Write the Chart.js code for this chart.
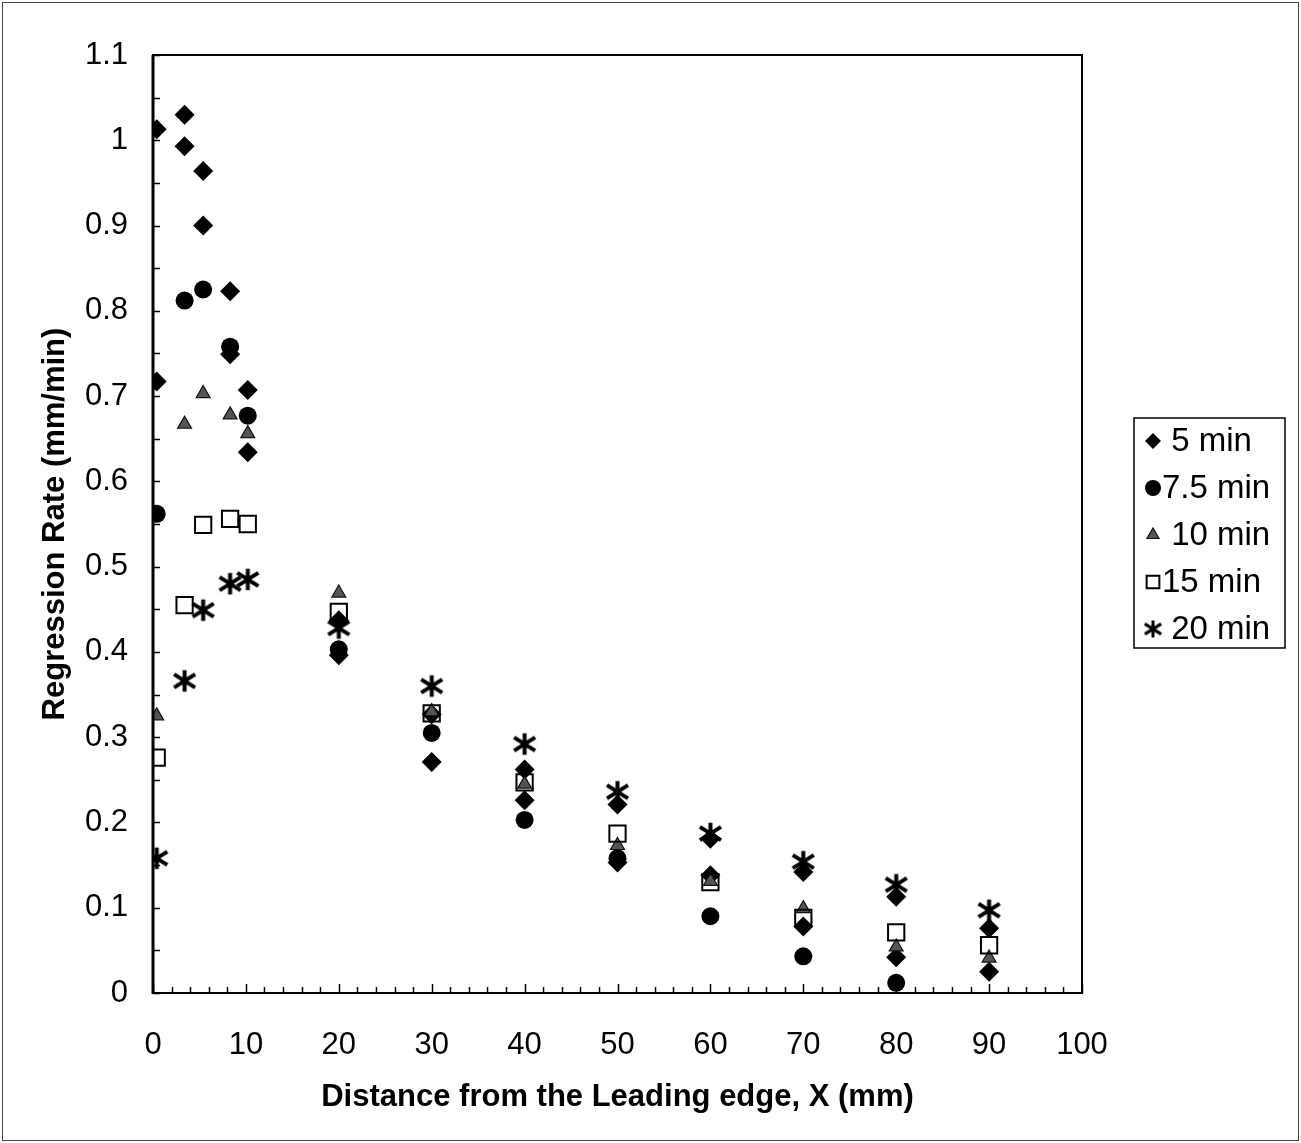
<!DOCTYPE html>
<html>
<head>
<meta charset="utf-8">
<script src="https://cdn.jsdelivr.net/npm/chart.js@4.4.1/dist/chart.umd.min.js"></script>
<style>
  html, body { margin: 0; padding: 0; background: #fff; }
  #wrap { width: 1301px; height: 1143px; position: relative; }
</style>
</head>
<body>
<div id="wrap"><canvas id="c"></canvas></div>
<script>
// Measurement stations along the slab (mm from the leading edge)
const distance = [0.4, 3.4, 5.4, 8.3, 10.2, 20, 30, 40, 50, 60, 70, 80, 90];

// Regression rate (mm/min) after each burn time
const rate5Upper = [1.013, 1.030, 0.964, 0.823, 0.707, 0.437, 0.327, 0.262, 0.221, 0.181, 0.142, 0.113, 0.076];
const rate5Lower = [0.717, 0.993, 0.900, 0.749, 0.634, 0.396, 0.271, 0.226, 0.153, 0.138, 0.078, 0.042, 0.025];
const rate7_5    = [0.562, 0.812, 0.825, 0.758, 0.677, 0.403, 0.305, 0.203, 0.158, 0.090, 0.043, 0.012, null];
const rate10     = [0.325, 0.667, 0.703, 0.678, 0.656, 0.469, 0.330, 0.245, 0.173, 0.131, 0.099, 0.054, 0.041];
const rate15     = [0.276, 0.455, 0.549, 0.556, 0.550, 0.447, 0.328, 0.247, 0.187, 0.130, 0.088, 0.071, 0.056];
const rate20     = [0.158, 0.366, 0.449, 0.480, 0.485, 0.428, 0.360, 0.292, 0.236, 0.187, 0.154, 0.127, 0.097];

const seriesNames = [' 5 min', '7.5 min', ' 10 min', '15 min', ' 20 min'];

const FONT = "'Liberation Sans', Arial, Helvetica, sans-serif";
Chart.defaults.font.family = FONT;
Chart.defaults.color = '#000';

// Six-armed asterisk marker: a vertical bar crossed by two wide diagonals
function asterisk(size, lw) {
  const c = document.createElement('canvas');
  c.width = size; c.height = size;
  const g = c.getContext('2d');
  g.strokeStyle = '#000';
  g.lineWidth = lw;
  const cx = size / 2, cy = size / 2;
  const rv = size * 0.40, rd = size * 0.46, a = 58 * Math.PI / 180;
  g.beginPath();
  g.moveTo(cx, cy - rv);
  g.lineTo(cx, cy + rv);
  g.moveTo(cx - rd * Math.sin(a), cy - rd * Math.cos(a));
  g.lineTo(cx + rd * Math.sin(a), cy + rd * Math.cos(a));
  g.moveTo(cx + rd * Math.sin(a), cy - rd * Math.cos(a));
  g.lineTo(cx - rd * Math.sin(a), cy + rd * Math.cos(a));
  g.stroke();
  return c;
}

const pts = ys => distance.map((x, i) => (ys[i] == null ? null : { x: x, y: ys[i] })).filter(Boolean);

const styles = [
  { pointStyle: 'rectRot', pointRadius: 10, backgroundColor: '#000', borderColor: '#000', borderWidth: 0, legendRadius: 8 },
  { pointStyle: 'circle', pointRadius: 9, backgroundColor: '#000', borderColor: '#000', borderWidth: 0, legendRadius: 8 },
  { pointStyle: 'triangle', pointRadius: 8, backgroundColor: '#555', borderColor: '#111', borderWidth: 1.2, legendRadius: 7 },
  { pointStyle: 'rect', pointRadius: 11.5, backgroundColor: 'rgba(0,0,0,0)', borderColor: '#000', borderWidth: 2, legendRadius: 9 },
  { pointStyle: asterisk(27, 4), pointRadius: 12, backgroundColor: '#000', borderColor: '#000', borderWidth: 0, legendStyle: asterisk(21, 3), legendRadius: 9 }
];

const seriesData = [
  pts(rate5Upper).concat(pts(rate5Lower)),
  pts(rate7_5),
  pts(rate10),
  pts(rate15),
  pts(rate20)
];

const datasets = seriesNames.map((name, i) => ({
  label: name,
  data: seriesData[i],
  showLine: false,
  pointStyle: styles[i].pointStyle,
  pointRadius: styles[i].pointRadius,
  pointHoverRadius: styles[i].pointRadius,
  pointBackgroundColor: styles[i].backgroundColor,
  pointBorderColor: styles[i].borderColor,
  pointBorderWidth: styles[i].borderWidth,
  order: seriesNames.length - i
}));

// Plot frame, inward tick marks and outer figure border
const framePlugin = {
  id: 'frame',
  afterDatasetsDraw(chart) {
    const { ctx, chartArea: a, scales } = chart;
    const xs = scales.x, ys = scales.y;
    ctx.save();
    ctx.strokeStyle = '#000';
    ctx.lineWidth = 1.5;
    for (let v = 0; v <= 100; v += 2) {
      const px = Math.round(xs.getPixelForValue(v)) + 0.5;
      const len = v % 10 === 0 ? 9 : 6;
      ctx.beginPath();
      ctx.moveTo(px, a.bottom);
      ctx.lineTo(px, a.bottom - len);
      ctx.stroke();
    }
    for (let k = 0; k <= 22; k++) {
      const py = Math.round(ys.getPixelForValue(k * 0.05)) + 0.5;
      ctx.beginPath();
      ctx.moveTo(a.left, py);
      ctx.lineTo(a.left + 7, py);
      ctx.stroke();
    }
    ctx.lineWidth = 2;
    ctx.strokeRect(a.left, a.top, a.right - a.left, a.bottom - a.top);
    ctx.lineWidth = 3;
    ctx.beginPath();
    ctx.moveTo(a.left, a.top);
    ctx.lineTo(a.left, a.bottom + 1);
    ctx.stroke();
    ctx.lineWidth = 1;
    ctx.strokeStyle = '#444';
    ctx.strokeRect(2.5, 2.5, chart.width - 5, chart.height - 5);
    ctx.restore();
  }
};

// Boxed legend to the right of the plot
const legendBoxPlugin = {
  id: 'legendBox',
  afterDraw(chart, args, opts) {
    const { ctx } = chart;
    ctx.save();
    ctx.strokeStyle = '#000';
    ctx.lineWidth = 1.5;
    ctx.strokeRect(opts.left, opts.top, opts.width, opts.height);
    ctx.font = opts.fontSize + 'px ' + FONT;
    ctx.textBaseline = 'middle';
    ctx.textAlign = 'left';
    chart.data.datasets.forEach((ds, i) => {
      const y = opts.firstRow + i * opts.rowGap;
      const st = styles[i];
      ctx.fillStyle = st.backgroundColor;
      ctx.strokeStyle = st.borderColor;
      ctx.lineWidth = st.borderWidth;
      Chart.helpers.drawPoint(ctx, {
        pointStyle: st.legendStyle || st.pointStyle,
        radius: st.legendRadius,
        rotation: 0,
        borderWidth: st.borderWidth
      }, opts.markerX, y);
      ctx.fillStyle = '#000';
      ctx.fillText(ds.label, opts.textX, y + 1);
    });
    ctx.restore();
  }
};

const fmt = v => String(parseFloat(Number(v).toFixed(2)));

new Chart(document.getElementById('c'), {
  type: 'scatter',
  data: { datasets: datasets },
  plugins: [framePlugin, legendBoxPlugin],
  options: {
    responsive: true,
    maintainAspectRatio: false,
    animation: false,
    events: [],
    layout: { padding: { top: 55, right: 219, left: 0, bottom: 0 } },
    plugins: {
      legend: { display: false },
      tooltip: { enabled: false },
      legendBox: { left: 1134, top: 418, width: 151, height: 230, markerX: 1153, textX: 1162, firstRow: 441, rowGap: 47, fontSize: 33 }
    },
    scales: {
      x: {
        type: 'linear',
        min: 0, max: 100,
        afterFit: s => { s.height = 150; },
        ticks: { stepSize: 10, padding: 34, font: { size: 31 }, color: '#000', maxRotation: 0, callback: fmt },
        grid: { display: false, drawTicks: false },
        border: { display: false },
        title: { display: true, text: 'Distance from the Leading edge, X (mm)', color: '#000', font: { size: 31, weight: 'bold' }, padding: { top: 0, bottom: 27 } }
      },
      y: {
        type: 'linear',
        min: 0, max: 1.1,
        afterFit: s => { s.width = 153; },
        ticks: { stepSize: 0.1, padding: 25, font: { size: 31 }, color: '#000', callback: fmt },
        grid: { display: false, drawTicks: false },
        border: { display: false },
        title: { display: true, text: 'Regression Rate (mm/min)', color: '#000', font: { size: 31, weight: 'bold' }, padding: { top: 37, bottom: 0 } }
      }
    }
  }
});
</script>
</body>
</html>
